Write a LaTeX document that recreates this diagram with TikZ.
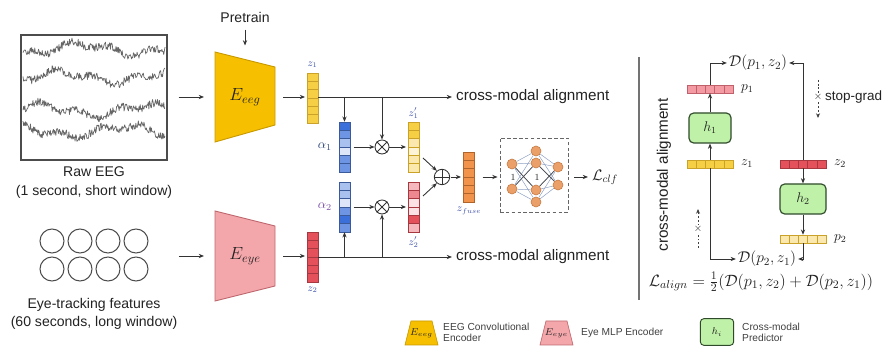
\RequirePackage{fix-cm}
\documentclass[tikz,border=0pt]{standalone}
\usepackage[no-math]{fontspec}
\setmainfont{Liberation Sans}
\usepackage{amsmath}
\usetikzlibrary{arrows.meta,calc,fit,backgrounds}

\definecolor{eegF}{HTML}{F6BF00}
\definecolor{eegD}{HTML}{C99A00}
\definecolor{eyeF}{HTML}{F4A7AB}
\definecolor{eyeD}{HTML}{BF6A70}
\definecolor{yA}{HTML}{F7CF45}
\definecolor{yB}{HTML}{F8DC7A}
\definecolor{yC}{HTML}{FAE8AE}
\definecolor{yD}{HTML}{FDF4D8}
\definecolor{yDr}{HTML}{C9A227}
\definecolor{rA}{HTML}{E5515B}
\definecolor{rB}{HTML}{EE8890}
\definecolor{rC}{HTML}{F5B8BD}
\definecolor{rD}{HTML}{FBE1E3}
\definecolor{rDr}{HTML}{A83840}
\definecolor{bA}{HTML}{3B6FD9}
\definecolor{bB}{HTML}{6D95E4}
\definecolor{bC}{HTML}{A8C1EF}
\definecolor{bD}{HTML}{DCE6F8}
\definecolor{bDr}{HTML}{3A5A9A}
\definecolor{oA}{HTML}{F2934C}
\definecolor{oDr}{HTML}{B0642A}
\definecolor{nnF}{HTML}{EBA06A}
\definecolor{nnD}{HTML}{C47A42}
\definecolor{gF}{HTML}{BFF2A8}
\definecolor{gD}{HTML}{2E4A2A}
\definecolor{pA}{HTML}{F39AA2}
\definecolor{pDr}{HTML}{C0606A}
\definecolor{txt}{HTML}{222222}
\definecolor{lbl}{HTML}{3C4FA8}
\definecolor{lblp}{HTML}{7A4FA8}

\newcommand{\fsz}[2]{\fontsize{#1}{#2}\selectfont}
% vertical vector: name, x left, y top, border colour, fills (6)
\newcommand{\vvec}[5]{%
  \foreach \f [count=\i from 0] in {#5} {
    \filldraw[fill=\f, draw=#4, line width=0.5pt] (#2,{#3+\i*8.33}) rectangle ++(11,8.33);
  }
  \node[inner sep=0pt, minimum width=0.33cm, minimum height=1.5cm] (#1) at ({#2+5.5},{#3+25}) {};
}
% horizontal vector: name, x left, y top, border colour, fills (5)
\newcommand{\hvec}[5]{%
  \foreach \f [count=\i from 0] in {#5} {
    \filldraw[fill=\f, draw=#4, line width=0.5pt] ({#2+\i*9.2},#3) rectangle ++(9.2,8);
  }
  \node[inner sep=0pt, minimum width=1.38cm, minimum height=0.24cm] (#1) at ({#2+23},{#3+4}) {};
}

\begin{document}
\begin{tikzpicture}[x=0.03cm, y=-0.03cm, text=txt,
  arr/.style={-{Stealth[length=4.5pt,width=3.6pt]}, line width=0.75pt, draw=black!80},
  sgarr/.style={-{Stealth[length=4pt,width=3.4pt]}, line width=0.7pt, draw=black!75, dash pattern=on 1.6pt off 1.6pt},
  eyec/.style={circle, draw=black!70, line width=0.9pt, minimum size=0.72cm, inner sep=0pt},
  nnode/.style={circle, fill=nnF, draw=nnD, line width=0.5pt, minimum size=0.3cm, inner sep=0pt},
  nnedge/.style={draw=bDr!60, line width=0.4pt},
  nndark/.style={draw=black!70, line width=0.6pt},
  opnode/.style={circle, draw=black!80, line width=0.75pt, minimum size=0.42cm, inner sep=0pt},
  hbox/.style={rounded corners=4pt, fill=gF, draw=gD, line width=1pt, inner sep=0pt},
  zlab/.style={font=\fsz{9}{10}, text=lbl},
]
\useasboundingbox (0,0) rectangle (884,348);

%% ---------- Raw EEG ----------
\node[draw=black!70, line width=1.2pt, minimum width=4.38cm, minimum height=3.75cm, inner sep=0pt] (eeg) at (94,97.5) {};
\pgfmathsetseed{11}
\foreach \yy/\ph in {49/0, 77/70, 110/140, 131/220} {
  \draw[black!60, line width=0.6pt, line join=round]
    plot[domain=23:165, samples=230] (\x, {\yy + 5*sin(3.3*\x+\ph) + 3*sin(9*\x+2*\ph) + 4*rand});
}
\node[align=center, font=\fsz{12}{16.2}] (rawlbl) at (94,182.5) {Raw EEG\\(1 second, short window)};

%% ---------- Eye tracking ----------
\foreach \cx [count=\k] in {52,80,108,136} {
  \node[eyec] (ca\k) at (\cx,241) {};
  \node[eyec] (cb\k) at (\cx,269) {};
}
\node[fit=(ca1)(cb4), inner sep=0pt] (eyes) {};
\node[align=center, font=\fsz{12}{15.3}] (eyelbl) at (94,314) {Eye-tracking features\\(60 seconds, long window)};

%% ---------- Encoders ----------
\filldraw[fill=eegF, draw=eegD, line width=0.8pt] (215,52) -- (275,67) -- (275,125) -- (215,142) -- cycle;
\node[font=\fsz{15}{17}] (Eeeg) at (245,97) {$E_{eeg}$};
\coordinate (eegL) at (215,97);
\coordinate (eegR) at (275,97);
\coordinate (eegT) at (245,59.5);
\node[font=\fsz{12}{14}] (pre) at (245,17) {Pretrain};
\draw[arr, shorten <=0.1cm, shorten >=0.42cm] (pre.south) -- (eegT);

\filldraw[fill=eyeF, draw=eyeD, line width=0.8pt] (215,211) -- (275,226) -- (275,286) -- (215,301) -- cycle;
\node[font=\fsz{15}{17}] (Eeye) at (245,256) {$E_{eye}$};
\coordinate (eyeL) at (215,256);
\coordinate (eyeR) at (275,256);

\draw[arr, shorten <=0.33cm, shorten >=0.33cm] (eeg.east |- eegL) -- (eegL);
\draw[arr, shorten <=0.9cm, shorten >=0.33cm] (eyes.east |- eyeL) -- (eyeL);

%% ---------- latent vectors ----------
\vvec{z1v}{307}{73}{yDr}{yA,yA,yA,yA,yA,yA}
\node[zlab] (z1lab) at (312.5,65) {$z_1$};
\vvec{z2v}{307}{232}{rDr}{rA,rA,rA,rA,rA,rA}
\node[zlab] (z2lab) at (312.5,290) {$z_2$};
\draw[arr, shorten <=0.24cm, shorten >=0.05cm] (eegR) -- (z1v.west |- eegR);
\draw[arr, shorten <=0.24cm, shorten >=0.05cm] (eyeR) -- (z2v.west |- eyeR);

\vvec{a1v}{339}{122}{bDr}{bA,bB,bC,bD,bB,bB}
\node[anchor=east, font=\fsz{11}{12}, text=bDr!80!black] (a1lab) at (336,147) {$\alpha_1$};
\vvec{a2v}{339}{182}{bDr}{bC,bC,bD,bB,bA,bB}
\node[anchor=east, font=\fsz{11}{12}, text=lblp] (a2lab) at (336,207) {$\alpha_2$};

\node[opnode] (ot1) at (382,147) {};
\draw[black!80, line width=0.7pt] (ot1.45) -- (ot1.225) (ot1.135) -- (ot1.315);
\node[opnode] (ot2) at (382,207) {};
\draw[black!80, line width=0.7pt] (ot2.45) -- (ot2.225) (ot2.135) -- (ot2.315);

\vvec{z1p}{408}{122}{yDr}{yA,yA,yC,yD,yC,yC}
\node[zlab] (z1plab) at (413.5,113) {$z_1'$};
\vvec{z2p}{408}{182}{rDr}{rC,rB,rD,rD,rA,rC}
\node[zlab] (z2plab) at (413.5,242) {$z_2'$};

% alignment lines
\node[anchor=west, font=\fsz{13}{15}] (cma1) at (452,97) {cross-modal alignment};
\node[anchor=west, font=\fsz{13}{15}] (cma2) at (452,257) {cross-modal alignment};
\draw[arr] (z1v.east |- cma1) -- (cma1.west);
\draw[arr] (z2v.east |- cma2) -- (cma2.west);
\coordinate (br1) at (344.5,97);
\coordinate (br2) at (382,97);
\coordinate (br3) at (344.5,257);
\coordinate (br4) at (382,257);
\draw[arr] (br1) -- (a1v.north);
\draw[arr] (br2) -- (ot1.north);
\draw[arr] (br3) -- (a2v.south);
\draw[arr] (br4) -- (ot2.south);
\draw[arr, shorten <=0.1cm] (a1v.east) -- (ot1.west);
\draw[arr, shorten <=0.1cm] (a2v.east) -- (ot2.west);
\draw[arr, shorten >=0.05cm] (ot1.east) -- (z1p.west);
\draw[arr, shorten >=0.05cm] (ot2.east) -- (z2p.west);

% fusion
\node[opnode, minimum size=0.46cm] (op) at (442,177) {};
\draw[black!80, line width=0.7pt] (op.north) -- (op.south) (op.east) -- (op.west);
\coordinate (f1) at (423,158);
\coordinate (f2) at (423,196);
\draw[arr] (f1) -- (op.130);
\draw[arr] (f2) -- (op.230);
\vvec{zf}{463}{152}{oDr}{oA,oA,oA,oA,oA,oA}
\node[zlab] (zflab) at (469,211) {$z_{fuse}$};
\draw[arr, shorten <=0.03cm, shorten >=0.05cm] (op.east) -- (zf.west);

% classifier
\node[draw=black!60, dash pattern=on 3pt off 2pt, line width=0.8pt, minimum width=2.04cm, minimum height=2.22cm, inner sep=0pt] (nnbox) at (534,175) {};
\node[nnode] (i1) at (512,164) {};
\node[nnode] (i2) at (512,189) {};
\node[nnode] (m1) at (536,151) {};
\node[nnode] (m2) at (536,163) {};
\node[nnode] (m3) at (536,190) {};
\node[nnode] (m4) at (536,202) {};
\node[nnode] (o1) at (558,167) {};
\node[nnode] (o2) at (558,185) {};
\begin{scope}[on background layer]
  \foreach \a in {i1,i2} \foreach \b in {m1,m2,m3,m4} \draw[nnedge] (\a) -- (\b);
  \foreach \a in {m1,m2,m3,m4} \foreach \b in {o1,o2} \draw[nnedge] (\a) -- (\b);
  \draw[nndark] (i1) -- (m3) (i2) -- (m2) (m2) -- (o2) (m3) -- (o1);
\end{scope}
\node[font=\fsz{8}{9}] (d1) at (513,177) {$1$};
\node[font=\fsz{8}{9}] (d2) at (537,177) {$1$};
\draw[arr, shorten <=0.25cm, shorten >=0.06cm] (zf.east) -- (nnbox.west |- zf.east);
\node[anchor=west, font=\fsz{13}{15}] (lclf) at (588,177) {$\mathcal{L}_{clf}$};
\draw[arr, shorten <=0.18cm] (nnbox.east |- lclf.west) -- (lclf.west);

%% ---------- right panel ----------
\draw[black!55, line width=1.2pt] (639,57) -- (639,300);
\node[rotate=90, font=\fsz{13}{15}] (cmav) at (664,175) {cross-modal alignment};

\hvec{p1v}{687}{85}{pDr}{pA,pA,pA,pA,pA}
\node[anchor=west, font=\fsz{11.5}{12}] (p1lab) at (737,89) {$p_1$};
\node[hbox, minimum width=1.26cm, minimum height=0.9cm] (h1) at (710,128) {\fsz{12}{14}$h_1$};
\hvec{z1h}{687}{160}{yDr}{yA,yA,yA,yA,yA}
\node[anchor=west, font=\fsz{11.5}{12}] (z1hlab) at (737,164) {$z_1$};

\hvec{z2h}{780}{160}{rDr}{rA,rA,rA,rA,rA}
\node[anchor=west, font=\fsz{11.5}{12}] (z2hlab) at (830,164) {$z_2$};
\node[hbox, minimum width=1.38cm, minimum height=0.9cm] (h2) at (803,199) {\fsz{12}{14}$h_2$};
\hvec{p2v}{780}{235}{yDr}{yC,yC,yC,yC,yC}
\node[anchor=west, font=\fsz{11.5}{12}] (p2lab) at (830,239) {$p_2$};

\node[font=\fsz{13.3}{14}, inner sep=1.5pt] (D1) at (758,63) {$\mathcal{D}(p_1,z_2)$};
\node[font=\fsz{13.3}{14}, inner sep=1.5pt] (D2) at (767,259) {$\mathcal{D}(p_2,z_1)$};

\draw[arr] (z1h.north) -- (h1.south);
\draw[arr] (h1.north) -- (p1v.south);
\draw[arr] (p1v.north) |- (D1.west);
\draw[arr] (z2h.north) |- (D1.east);
\draw[arr] (z2h.south) -- (h2.north);
\draw[arr] (h2.south) -- (p2v.north);
\draw[arr] (p2v.south) |- (D2.east);
\draw[arr] (z1h.south) |- (D2.west);

% stop-grad markers
\coordinate (sgA) at (818,80);
\coordinate (sgB) at (818,118);
\draw[sgarr] (sgA) -- (sgB);
\node[font=\fsz{9}{10}, fill=white, inner sep=0.3pt] (sgx1) at (818,97) {$\times$};
\node[anchor=west, font=\fsz{11.5}{13}, inner sep=0pt] (sgt) at (825,97) {stop-grad};
\coordinate (sgC) at (698,248);
\coordinate (sgD) at (698,209);
\draw[sgarr] (sgC) -- (sgD);
\node[font=\fsz{9}{10}, fill=white, inner sep=0.3pt] (sgx2) at (698,229) {$\times$};

\node[font=\fsz{14}{15}, inner sep=1pt] (lalign) at (761,282) {$\mathcal{L}_{align}=\tfrac{1}{2}(\mathcal{D}(p_1,z_2)+\mathcal{D}(p_2,z_1))$};

%% ---------- legend ----------
\filldraw[fill=eegF, draw=eegD, line width=0.6pt] (411,321) -- (432,321) -- (438,345) -- (405,345) -- cycle;
\node[font=\fsz{8.5}{9}] (lg1) at (421.5,333) {$E_{eeg}$};
\node[anchor=west, align=left, font=\fsz{8.7}{10}, inner sep=0pt, text=black!75] (lg1t) at (443,332.5) {EEG Convolutional\\Encoder};
\filldraw[fill=eyeF, draw=eyeD, line width=0.6pt] (546,321) -- (567,321) -- (573,345) -- (540,345) -- cycle;
\node[font=\fsz{8.5}{9}] (lg2) at (556.5,333) {$E_{eye}$};
\node[anchor=west, font=\fsz{8.7}{10}, inner sep=0pt, text=black!75] (lg2t) at (581,332.5) {Eye MLP Encoder};
\node[hbox, rounded corners=3pt, line width=0.8pt, minimum width=1.0cm, minimum height=0.8cm] (lg3) at (717,332) {\fsz{8.5}{9}$h_i$};
\node[anchor=west, align=left, font=\fsz{8.7}{10}, inner sep=0pt, text=black!75] (lg3t) at (742,332.5) {Cross-modal\\Predictor};
\end{tikzpicture}
\end{document}
